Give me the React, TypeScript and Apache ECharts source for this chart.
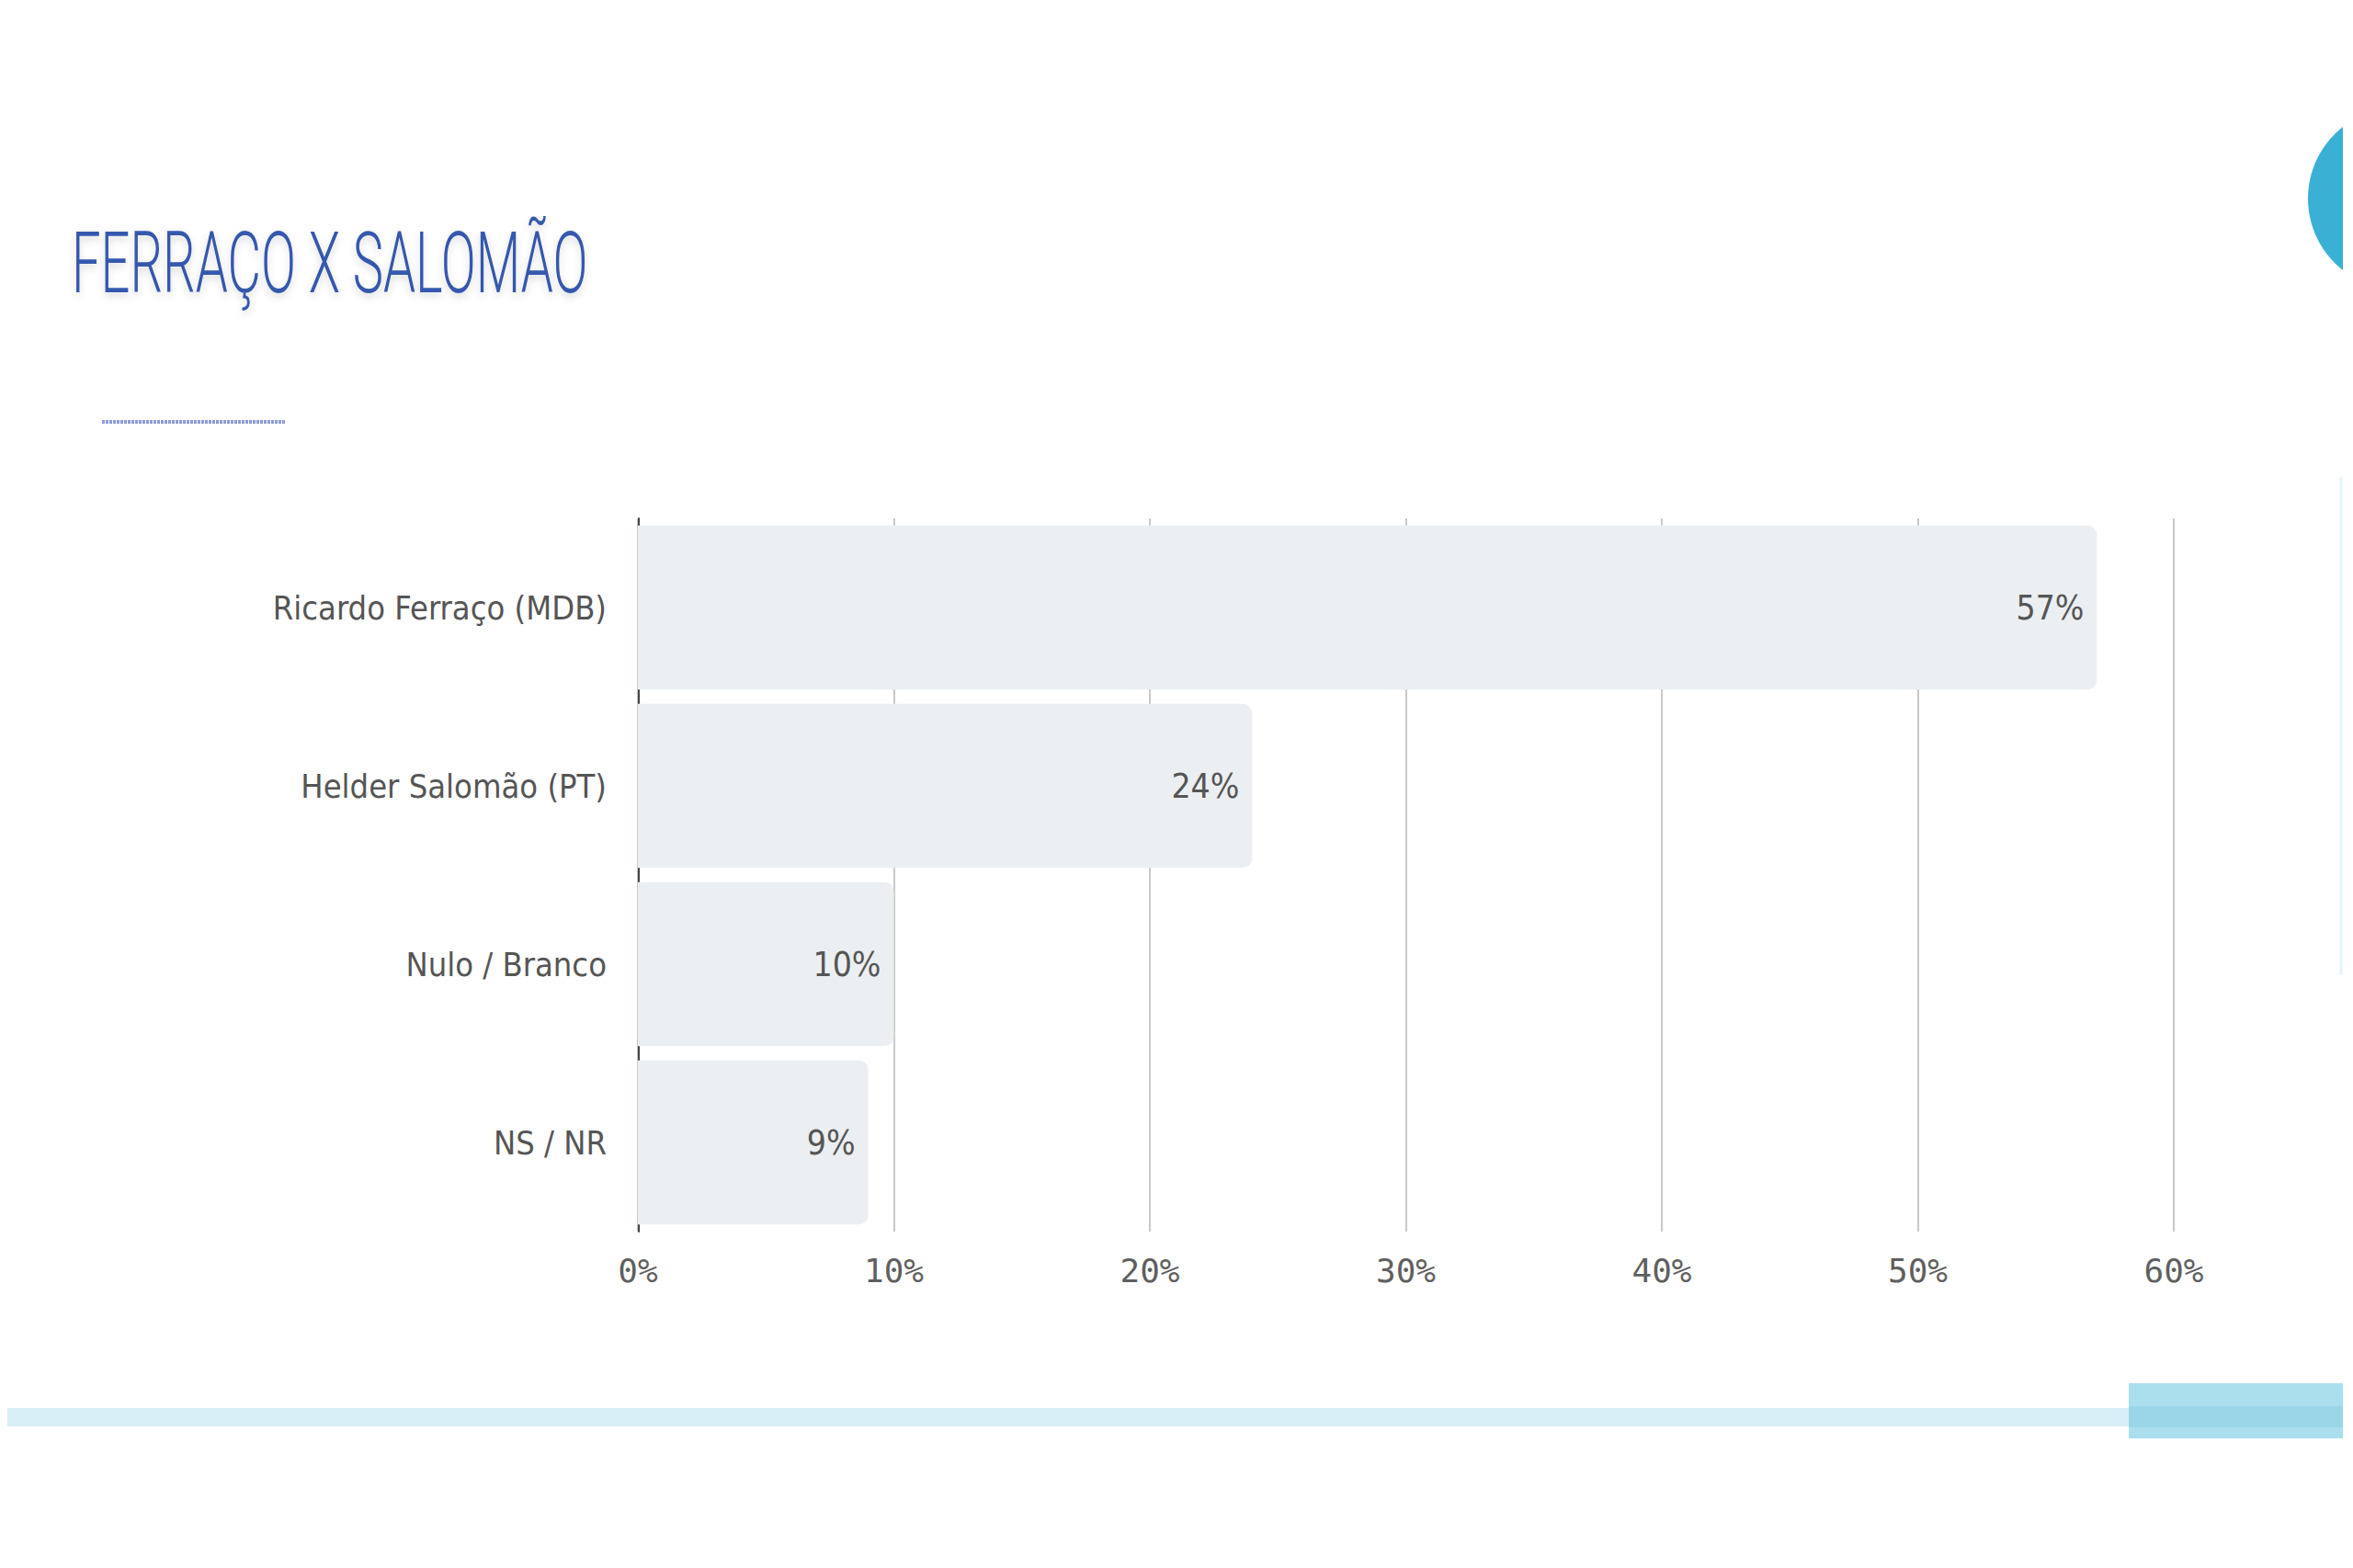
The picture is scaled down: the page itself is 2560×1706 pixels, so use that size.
import React, { useEffect, useRef } from "react";
import * as echarts from "echarts";

const categories = ["Ricardo Ferraço (MDB)", "Helder Salomão (PT)", "Nulo / Branco", "NS / NR"];
const values = [57, 24, 10, 9];
const tickValues = [0, 10, 20, 30, 40, 50, 60];
const titleText = "FERRAÇO X SALOMÃO";

const CONDENSED = '"Liberation Sans Narrow", "DejaVu Sans Condensed", "Roboto Condensed", Roboto, sans-serif';
const MONO = '"DejaVu Sans Mono", "Liberation Mono", monospace';

export default function App() {
  const ref = useRef<HTMLDivElement>(null);
  useEffect(() => {
    if (!ref.current) return;
    const chart = echarts.init(ref.current, undefined, { renderer: "svg" });
    chart.setOption({
      animation: false,
      backgroundColor: "#ffffff",
      grid: { left: 694, right: 195, top: 564, bottom: 366, containLabel: false },
      xAxis: {
        type: "value",
        min: tickValues[0],
        max: tickValues[tickValues.length - 1],
        interval: 10,
        axisLine: { show: false },
        axisTick: { show: false },
        splitLine: { show: true, lineStyle: { color: "#c9c9c9", width: 2 } },
        axisLabel: {
          formatter: "{value}%",
          color: "#5f5f5f",
          fontSize: 36,
          fontFamily: MONO,
          margin: 24,
        },
      },
      yAxis: {
        type: "category",
        data: categories,
        inverse: true,
        offset: -1,
        axisLine: { show: true, lineStyle: { color: "#444444", width: 2 } },
        axisTick: { show: false },
        axisLabel: {
          color: "#555555",
          fontSize: 36,
          fontFamily: CONDENSED,
          margin: 35,
        },
      },
      series: [
        {
          type: "bar",
          data: values,
          barCategoryGap: "8%",
          itemStyle: { color: "#eceff2", borderRadius: [0, 10, 10, 0] },
          label: {
            show: true,
            position: "insideRight",
            distance: 14,
            formatter: "{c}%",
            color: "#555555",
            fontSize: 37,
            fontFamily: CONDENSED,
          },
        },
      ],
      graphic: [
        {
          type: "text",
          x: 78,
          y: 241,
          scaleX: 0.61,
          style: {
            text: titleText,
            font: '300 92px Roboto, sans-serif',
            fill: "#3658ae",
            textShadowColor: "rgba(0,0,0,0.16)",
            textShadowBlur: 8,
            textShadowOffsetY: 4,
          },
        },
        {
          type: "line",
          shape: { x1: 111, y1: 459, x2: 310, y2: 459 },
          style: { stroke: "#8d9bd6", lineWidth: 4, lineDash: [3, 1] },
        },
        {
          type: "circle",
          shape: { cx: 2610, cy: 216, r: 99 },
          style: { fill: "#3bb0d5" },
        },
        {
          type: "line",
          shape: { x1: 2547, y1: 519, x2: 2547, y2: 1061 },
          style: { stroke: "#e4f3f8", lineWidth: 3 },
        },
        {
          type: "rect",
          shape: { x: 8, y: 1532, width: 2310, height: 20 },
          style: { fill: "#d9eff6" },
        },
        {
          type: "rect",
          shape: { x: 2316, y: 1505, width: 233, height: 60 },
          style: { fill: "#abdfed" },
        },
        {
          type: "rect",
          shape: { x: 2316, y: 1530, width: 233, height: 23 },
          style: { fill: "#9ad6e7" },
        },
        {
          type: "rect",
          shape: { x: 2549, y: 0, width: 20, height: 1706 },
          style: { fill: "#ffffff" },
        },
      ],
    });
    return () => chart.dispose();
  }, []);
  return (
    <div
      ref={ref}
      style={{ position: "fixed", left: 0, top: 0, width: 2560, height: 1706 }}
    />
  );
}
